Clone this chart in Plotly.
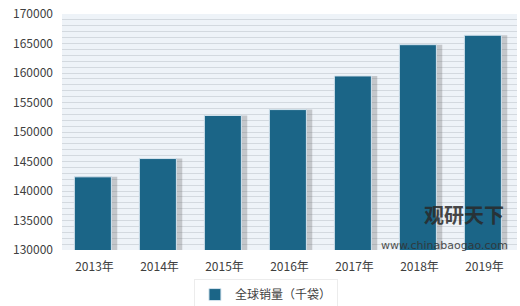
import plotly.graph_objects as go

years = ["2013年", "2014年", "2015年", "2016年", "2017年", "2018年", "2019年"]
sales = [142400, 145500, 152800, 153800, 159500, 164800, 166400]
series_name = "全球销量（千袋）"
y_ticks = [130000, 135000, 140000, 145000, 150000, 155000, 160000, 165000, 170000]

FONT = "Noto Sans CJK SC"
fig = go.Figure()
# soft shadow behind bars
fig.add_trace(go.Bar(x=years, y=sales, base=0, width=0.6, offset=-0.25,
                     marker=dict(color="rgba(100,100,100,0.3)", line=dict(width=0)),
                     showlegend=False, hoverinfo="skip"))
fig.add_trace(go.Bar(x=years, y=sales, name=series_name, width=0.57, offset=-0.31,
                     marker=dict(color="#1b6587", line=dict(color="#d5e4ee", width=1))))
fig.update_layout(
    width=520, height=306, barmode="overlay",
    margin=dict(l=62, r=3, t=14, b=56, autoexpand=False),
    paper_bgcolor="white", plot_bgcolor="#eef3f8",
    font=dict(family=FONT, size=12, color="#404040"),
    showlegend=True,
    legend=dict(orientation="h", x=0.29, xanchor="left", yref="container", y=0.088,
                yanchor="top",
                font=dict(size=12, color="#404040"), bgcolor="white",
                bordercolor="#ececec", borderwidth=1, itemwidth=30),
    xaxis=dict(showgrid=False, ticks="", tickfont=dict(size=12), showline=False,
               ticklabelstandoff=8),
    yaxis=dict(range=[130000, 170000], tickvals=y_ticks, ticktext=[str(v) for v in y_ticks],
               showgrid=True, gridcolor="#d3d9df", gridwidth=1.2, zeroline=False,
               minor=dict(dtick=1000, showgrid=True, gridcolor="#d3d9df", gridwidth=1.2),
               tickfont=dict(size=12), ticks="", ticklabelstandoff=8),
)
fig.add_annotation(x=0.975, y=0.08, xref="paper", yref="paper", text="<b>观研天下</b>",
                   showarrow=False, font=dict(size=20, color="#2a2a2a", family=FONT),
                   xanchor="right", opacity=0.85)
fig.add_annotation(x=0.985, y=-0.015, xref="paper", yref="paper", text="www.chinabaogao.com",
                   showarrow=False, font=dict(size=11, color="#333333", family="DejaVu Sans"),
                   xanchor="right", opacity=0.85)
fig.write_html("out.html")
